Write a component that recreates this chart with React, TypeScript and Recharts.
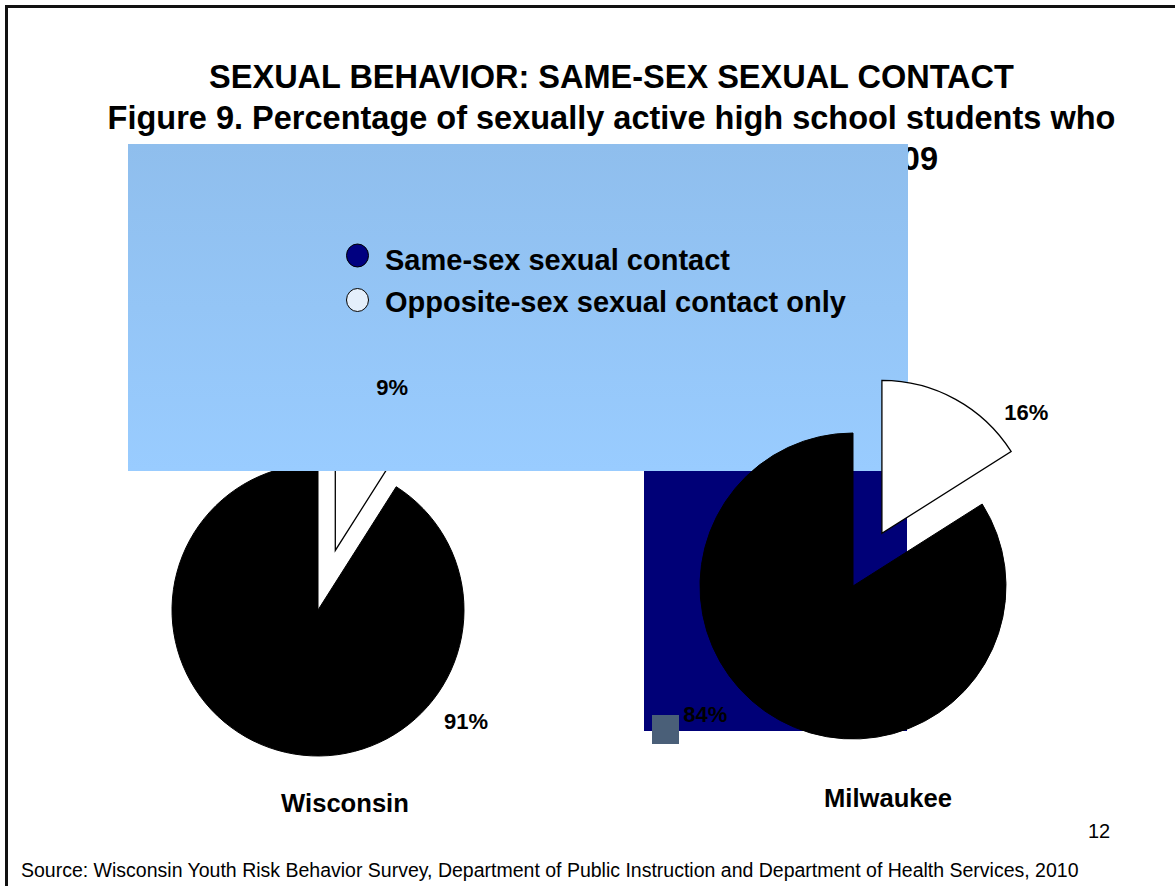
import React from "react";
import { PieChart, Pie, Cell, Legend } from "recharts";

const W = 1175;
const H = 886;
const FONT = "'Liberation Sans', Arial, sans-serif";

const locations = ["Wisconsin", "Milwaukee"];
const sliceNames = ["Opposite-sex sexual contact only", "Same-sex sexual contact"];
const wisconsinValues = [9, 91];
const milwaukeeValues = [16, 84];
const legendLabels = ["Same-sex sexual contact", "Opposite-sex sexual contact only"];
const legendColors = ["#000080", "#e4effb"];
const titleLines = [
  "SEXUAL BEHAVIOR: SAME-SEX SEXUAL CONTACT",
  "Figure 9. Percentage of sexually active high school students who",
  "reported same-sex sexual contact, 2009"
];
const sourceText =
  "Source: Wisconsin Youth Risk Behavior Survey, Department of Public Instruction and Department of Health Services, 2010";
const pageNumber = "12";

const valuesByLocation = [wisconsinValues, milwaukeeValues];

// where each pie sits and how far the small slice is pulled out
const pieLayout = [
  { cx: 318, cy: 610, r: 146, explode: 62, labels: [{ angle: 71.6, dist: 235 }, { angle: -36.9, dist: 185 }] },
  { cx: 853, cy: 586, r: 153, explode: 60, labels: [{ angle: 45, dist: 245 }, { angle: -138.9, dist: 196 }] }
];

const rowsFor = (i: number) =>
  valuesByLocation[i].map((v, k) => ({ name: sliceNames[k], value: v }));

const piePieces = (i: number) => {
  const L = pieLayout[i];
  const rows = rowsFor(i);
  const total = rows.reduce((s, r) => s + r.value, 0);
  const mid = ((90 - (rows[0].value / total) * 180) * Math.PI) / 180;
  const ex = L.cx + L.explode * Math.cos(mid);
  const ey = L.cy - L.explode * Math.sin(mid);
  return [
    <Pie
      key={`body-${i}`}
      data={rows}
      dataKey="value"
      cx={L.cx}
      cy={L.cy}
      outerRadius={L.r}
      startAngle={90}
      endAngle={-270}
      labelLine={false}
      isAnimationActive={false}
    >
      <Cell fill="none" stroke="none" />
      <Cell fill="#000000" stroke="#000000" />
    </Pie>,
    <Pie
      key={`out-${i}`}
      data={rows}
      dataKey="value"
      cx={ex}
      cy={ey}
      outerRadius={L.r}
      startAngle={90}
      endAngle={-270}
      labelLine={false}
      isAnimationActive={false}
    >
      <Cell fill="#ffffff" stroke="#000000" strokeWidth={1.3} />
      <Cell fill="none" stroke="none" />
    </Pie>
  ];
};

const pieLabels = (i: number) => {
  const L = pieLayout[i];
  const rows = rowsFor(i);
  return (
    <Pie
      key={`labels-${i}`}
      data={rows}
      dataKey="value"
      cx={L.cx}
      cy={L.cy}
      outerRadius={L.r}
      startAngle={90}
      endAngle={-270}
      labelLine={false}
      isAnimationActive={false}
      label={(p: any) => {
        const pl = L.labels[p.index];
        const a = (pl.angle * Math.PI) / 180;
        return (
          <text
            x={L.cx + pl.dist * Math.cos(a)}
            y={L.cy - pl.dist * Math.sin(a)}
            textAnchor="middle"
            dominantBaseline="central"
            fontFamily={FONT}
            fontWeight="bold"
            fontSize={22}
            fill="#000"
          >
            {`${p.value}%`}
          </text>
        );
      }}
    >
      {rows.map((r) => (
        <Cell key={r.name} fill="none" stroke="none" />
      ))}
    </Pie>
  );
};

const LegendBox = () => (
  <svg width={540} height={90} style={{ display: "block" }}>
    {legendLabels.map((lab, k) => (
      <g key={lab}>
        <ellipse
          cx={17.5}
          cy={19.5 + k * 44.5}
          rx={11}
          ry={11.5}
          fill={legendColors[k]}
          stroke="#000"
          strokeWidth={1}
        />
        <text x={45} y={34 + k * 41.5} fontFamily={FONT} fontWeight="bold" fontSize={29} fill="#000">
          {lab}
        </text>
      </g>
    ))}
  </svg>
);

const layer: React.CSSProperties = { position: "absolute", left: 0, top: 0 };

export default function App() {
  return (
    <div style={{ position: "absolute", left: 0, top: 0, width: W, height: H, overflow: "hidden", background: "#fff" }}>
      {/* slide frame and text */}
      <svg width={W} height={H} style={layer}>
        <path d={`M6.5 ${H} V6.5 H${W}`} fill="none" stroke="#111" strokeWidth={3} />
        <text x={611.5} y={88} textAnchor="middle" fontFamily={FONT} fontWeight="bold" fontSize={32.5}>
          {titleLines[0]}
        </text>
        <text x={611.5} y={128.5} textAnchor="middle" fontFamily={FONT} fontWeight="bold" fontSize={32.5}>
          {titleLines[1]}
        </text>
        <text x={938} y={170} textAnchor="end" fontFamily={FONT} fontWeight="bold" fontSize={32.5}>
          {titleLines[2]}
        </text>
        <text x={345} y={812} textAnchor="middle" fontFamily={FONT} fontWeight="bold" fontSize={25.6}>
          {locations[0]}
        </text>
        <text x={888} y={807} textAnchor="middle" fontFamily={FONT} fontWeight="bold" fontSize={25.6}>
          {locations[1]}
        </text>
        <text x={1099} y={838} textAnchor="middle" fontFamily={FONT} fontSize={20}>
          {pageNumber}
        </text>
        <text x={21} y={877} fontFamily={FONT} fontSize={19.5}>
          {sourceText}
        </text>
      </svg>

      <div style={layer}>
        <PieChart width={W} height={H} margin={{ top: 0, right: 0, bottom: 0, left: 0 }}>
          {piePieces(0)}
        </PieChart>
      </div>

      {/* leftover boxes from the slide */}
      <svg width={W} height={H} style={layer}>
        <defs>
          <linearGradient id="boxBlue" x1="0" y1="0" x2="0" y2="1">
            <stop offset="0%" stopColor="#8fbeed" />
            <stop offset="100%" stopColor="#99ccff" />
          </linearGradient>
        </defs>
        <rect x={128} y={144} width={780} height={327} fill="url(#boxBlue)" />
        <rect x={644} y={471} width={263} height={260} fill="#000077" />
        <rect x={652} y={715} width={27} height={29} fill="#4a5f78" />
      </svg>

      <div style={layer}>
        <PieChart width={W} height={H} margin={{ top: 0, right: 0, bottom: 0, left: 0 }}>
          <Legend
            content={() => <LegendBox />}
            wrapperStyle={{ position: "absolute", left: 340, top: 236, bottom: "auto", width: 540, height: 90 }}
          />
          {piePieces(1)}
          {pieLabels(0)}
          {pieLabels(1)}
        </PieChart>
      </div>
    </div>
  );
}
